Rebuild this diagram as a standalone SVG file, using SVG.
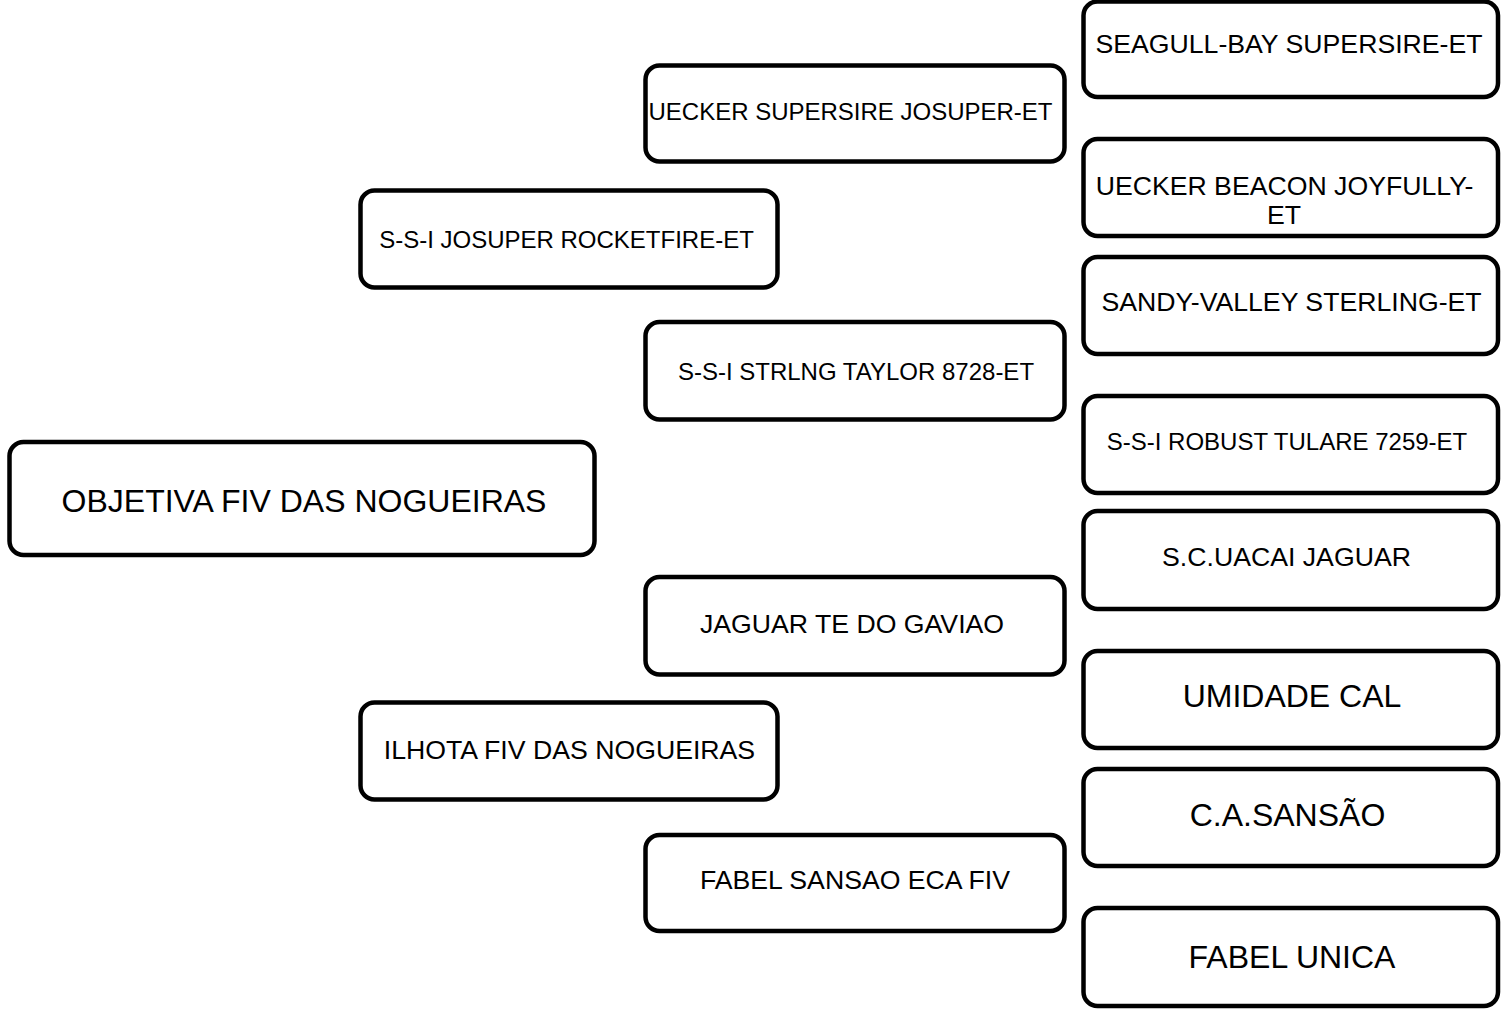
<svg xmlns="http://www.w3.org/2000/svg" width="1501" height="1011" viewBox="0 0 1501 1011">
<style>
.box{fill:#ffffff;stroke:#000000;stroke-width:4.5}
text{font-family:"Liberation Sans",Arial,sans-serif;fill:#000000;text-anchor:middle}
.s{font-size:24px}
.m{font-size:26.67px}
.l{font-size:32px}
</style>
<rect width="1501" height="1011" fill="#ffffff"/>
<g id="connectors"></g>
<g id="n0"><rect class="box" x="9.5" y="442" width="585" height="113" rx="14"/><text class="l" x="304" y="512">OBJETIVA FIV DAS NOGUEIRAS</text></g>
<g id="n1"><rect class="box" x="360.5" y="190.5" width="417" height="97" rx="14"/><text class="s" x="566.5" y="248">S-S-I JOSUPER ROCKETFIRE-ET</text></g>
<g id="n2"><rect class="box" x="360.5" y="702.5" width="417" height="97" rx="14"/><text class="m" x="569.5" y="759">ILHOTA FIV DAS NOGUEIRAS</text></g>
<g id="n3"><rect class="box" x="645.5" y="65.5" width="419" height="96" rx="14"/><text class="s" x="850.5" y="120">UECKER SUPERSIRE JOSUPER-ET</text></g>
<g id="n4"><rect class="box" x="645.5" y="322" width="419" height="97.5" rx="14"/><text class="s" x="856" y="380">S-S-I STRLNG TAYLOR 8728-ET</text></g>
<g id="n5"><rect class="box" x="645.5" y="577" width="419" height="97.5" rx="14"/><text class="m" x="852" y="633">JAGUAR TE DO GAVIAO</text></g>
<g id="n6"><rect class="box" x="645.5" y="835" width="419" height="96" rx="14"/><text class="m" x="855" y="889">FABEL SANSAO ECA FIV</text></g>
<g id="n7"><rect class="box" x="1083.5" y="1.5" width="414.5" height="95.5" rx="14"/><text class="m" x="1289" y="53">SEAGULL-BAY SUPERSIRE-ET</text></g>
<g id="n8"><rect class="box" x="1083.5" y="139" width="414.5" height="97" rx="14"/><text class="m" x="1284.5" y="195">UECKER BEACON JOYFULLY-</text><text class="m" x="1284" y="224">ET</text></g>
<g id="n9"><rect class="box" x="1083.5" y="257" width="414.5" height="97" rx="14"/><text class="m" x="1291.5" y="311">SANDY-VALLEY STERLING-ET</text></g>
<g id="n10"><rect class="box" x="1083.5" y="396" width="414.5" height="97" rx="14"/><text class="s" x="1287" y="450">S-S-I ROBUST TULARE 7259-ET</text></g>
<g id="n11"><rect class="box" x="1083.5" y="511" width="414.5" height="98" rx="14"/><text class="m" x="1286.5" y="566">S.C.UACAI JAGUAR</text></g>
<g id="n12"><rect class="box" x="1083.5" y="651" width="414.5" height="97" rx="14"/><text class="l" x="1292" y="707">UMIDADE CAL</text></g>
<g id="n13"><rect class="box" x="1083.5" y="769" width="414.5" height="97" rx="14"/><text class="l" x="1287.5" y="826">C.A.SANSÃO</text></g>
<g id="n14"><rect class="box" x="1083.5" y="908" width="414.5" height="98" rx="14"/><text class="l" x="1292" y="968">FABEL UNICA</text></g>
</svg>
